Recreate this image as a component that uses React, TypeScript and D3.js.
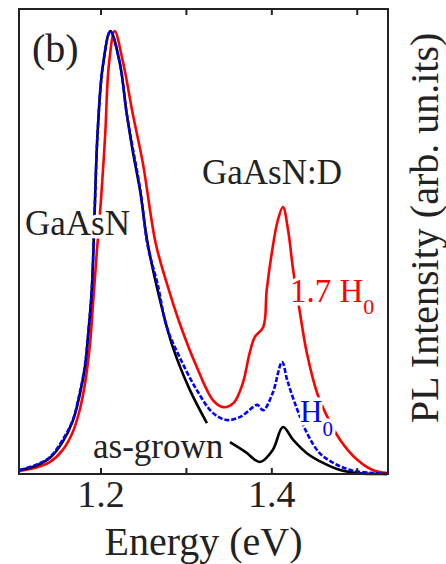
import React from 'react';
import * as d3 from 'd3';

const W = 446;
const H = 564;
const margin = { top: 9, right: 58, bottom: 90, left: 19 };

// energies (eV) and PL intensities (normalised)
const grownEnergy = [1.105, 1.123, 1.14, 1.155, 1.167, 1.175, 1.181, 1.185, 1.189, 1.191, 1.193, 1.196, 1.202, 1.211, 1.222, 1.23, 1.237, 1.246, 1.254, 1.269, 1.284, 1.304, 1.324, 1.337, 1.351, 1.369, 1.386, 1.401, 1.413, 1.425, 1.441, 1.46, 1.48, 1.5, 1.535];
const grownIntensity = [0.009, 0.018, 0.036, 0.072, 0.12, 0.178, 0.239, 0.314, 0.409, 0.499, 0.619, 0.77, 0.919, 1.0, 0.928, 0.815, 0.731, 0.637, 0.528, 0.393, 0.287, 0.19, 0.115, NaN, 0.072, 0.05, 0.027, 0.054, 0.106, 0.077, 0.047, 0.025, 0.009, 0.002, 0];

const h0Energy = [1.105, 1.123, 1.14, 1.155, 1.167, 1.175, 1.181, 1.185, 1.189, 1.191, 1.193, 1.196, 1.202, 1.211, 1.222, 1.23, 1.237, 1.246, 1.255, 1.266, 1.277, 1.292, 1.312, 1.331, 1.347, 1.363, 1.378, 1.383, 1.39, 1.401, 1.412, 1.418, 1.427, 1.441, 1.456, 1.472, 1.492, 1.518, 1.535];
const h0Intensity = [0.009, 0.02, 0.038, 0.077, 0.122, 0.183, 0.242, 0.318, 0.409, 0.499, 0.619, 0.77, 0.919, 1.0, 0.928, 0.815, 0.738, 0.641, 0.512, 0.431, 0.332, 0.264, 0.19, 0.138, 0.122, 0.129, 0.151, 0.156, 0.144, 0.183, 0.253, 0.212, 0.16, 0.093, 0.047, 0.025, 0.009, 0.002, 0];

const h17Energy = [1.105, 1.123, 1.14, 1.155, 1.167, 1.175, 1.181, 1.187, 1.191, 1.195, 1.2, 1.205, 1.209, 1.216, 1.226, 1.237, 1.249, 1.264, 1.277, 1.292, 1.312, 1.331, 1.343, 1.355, 1.366, 1.374, 1.38, 1.39, 1.394, 1.401, 1.407, 1.413, 1.419, 1.425, 1.433, 1.441, 1.453, 1.465, 1.48, 1.5, 1.518, 1.535];
const h17Intensity = [0.007, 0.014, 0.027, 0.054, 0.095, 0.144, 0.201, 0.291, 0.393, 0.499, 0.619, 0.77, 0.919, 1.0, 0.928, 0.815, 0.702, 0.521, 0.431, 0.341, 0.242, 0.167, 0.151, 0.16, 0.205, 0.273, 0.309, 0.332, 0.415, 0.512, 0.573, 0.603, 0.551, 0.46, 0.363, 0.273, 0.183, 0.129, 0.077, 0.032, 0.009, 0.002];

const topTicks = [1.2, 1.3, 1.4, 1.5];
const labelTicks = [1.2, 1.4];

const FAMILY = "'Liberation Serif', 'Times New Roman', Tinos, FreeSerif, monospace";

export default function App() {
  const x = d3.scaleLinear().domain([1.104, 1.536]).range([margin.left, W - margin.right]);
  const y = d3.scaleLinear().domain([0, 1.05]).range([H - margin.bottom, margin.top]);

  const line = d3
    .line<[number, number]>()
    .defined(d => !isNaN(d[1]))
    .x(d => x(d[0]))
    .y(d => y(d[1]))
    .curve(d3.curveCatmullRom.alpha(0.5));

  const zip = (e: number[], v: number[]) => e.map((d, i) => [d, v[i]] as [number, number]);

  const x0 = margin.left;
  const x1 = W - margin.right;
  const y0 = H - margin.bottom;
  const y1 = margin.top;

  const halo = { stroke: '#fff', strokeWidth: 7, paintOrder: 'stroke', strokeLinejoin: 'round' };
  const t = { fill: '#222', fontFamily: FAMILY, className: 'lbl' };

  return (
    <svg width={W} height={H} style={{ position: 'absolute', left: 0, top: 0, background: '#fff' }}>
      <style>{`.lbl, .lbl tspan { font-family: ${FAMILY} !important; }`}</style>
      <path d={line(zip(h17Energy, h17Intensity)) || ''} fill="none" stroke="#ff0000" strokeWidth={2.6} />
      <path d={line(zip(grownEnergy, grownIntensity)) || ''} fill="none" stroke="#000" strokeWidth={2.6} />
      <path d={line(zip(h0Energy, h0Intensity)) || ''} fill="none" stroke="#0000ff" strokeWidth={2.6} strokeDasharray="5,2" />

      {/* frame + ticks */}
      <rect x={x0} y={y1} width={x1 - x0} height={y0 - y1} fill="none" stroke="#222" strokeWidth={2} />
      {topTicks.map(v => (
        <g key={v}>
          <line x1={x(v)} x2={x(v)} y1={y1} y2={y1 + 6} stroke="#222" strokeWidth={2} />
          <line x1={x(v)} x2={x(v)} y1={y0} y2={y0 - 6} stroke="#222" strokeWidth={2} />
        </g>
      ))}
      {labelTicks.map(v => (
        <text key={v} {...t} x={x(v)} y={507} fontSize={38} textAnchor="middle">
          {v.toFixed(1)}
        </text>
      ))}
      <text {...t} x={(x0 + x1) / 2} y={555} fontSize={40} textAnchor="middle">
        Energy (eV)
      </text>
      <text {...t} transform="translate(438,228) rotate(-90)" fontSize={40} textAnchor="middle">
        PL Intensity (arb. un.its)
      </text>

      {/* annotations */}
      <text {...t} x={32} y={62} fontSize={40}>(b)</text>
      <text {...t} {...halo} x={25} y={235} fontSize={35}>GaAsN</text>
      <text {...t} x={202} y={184} fontSize={35}>GaAsN:D</text>
      <text {...t} x={93} y={458} fontSize={35}>as-grown</text>
      <text {...t} {...halo} fill="#ff0000" x={290} y={302} fontSize={33}>
        1.7 H<tspan fontSize={22} dy={12}>0</tspan>
      </text>
      <text {...t} {...halo} fill="#0000ff" x={300} y={422} fontSize={31}>
        H<tspan fontSize={21} dy={14}>0</tspan>
      </text>
    </svg>
  );
}
